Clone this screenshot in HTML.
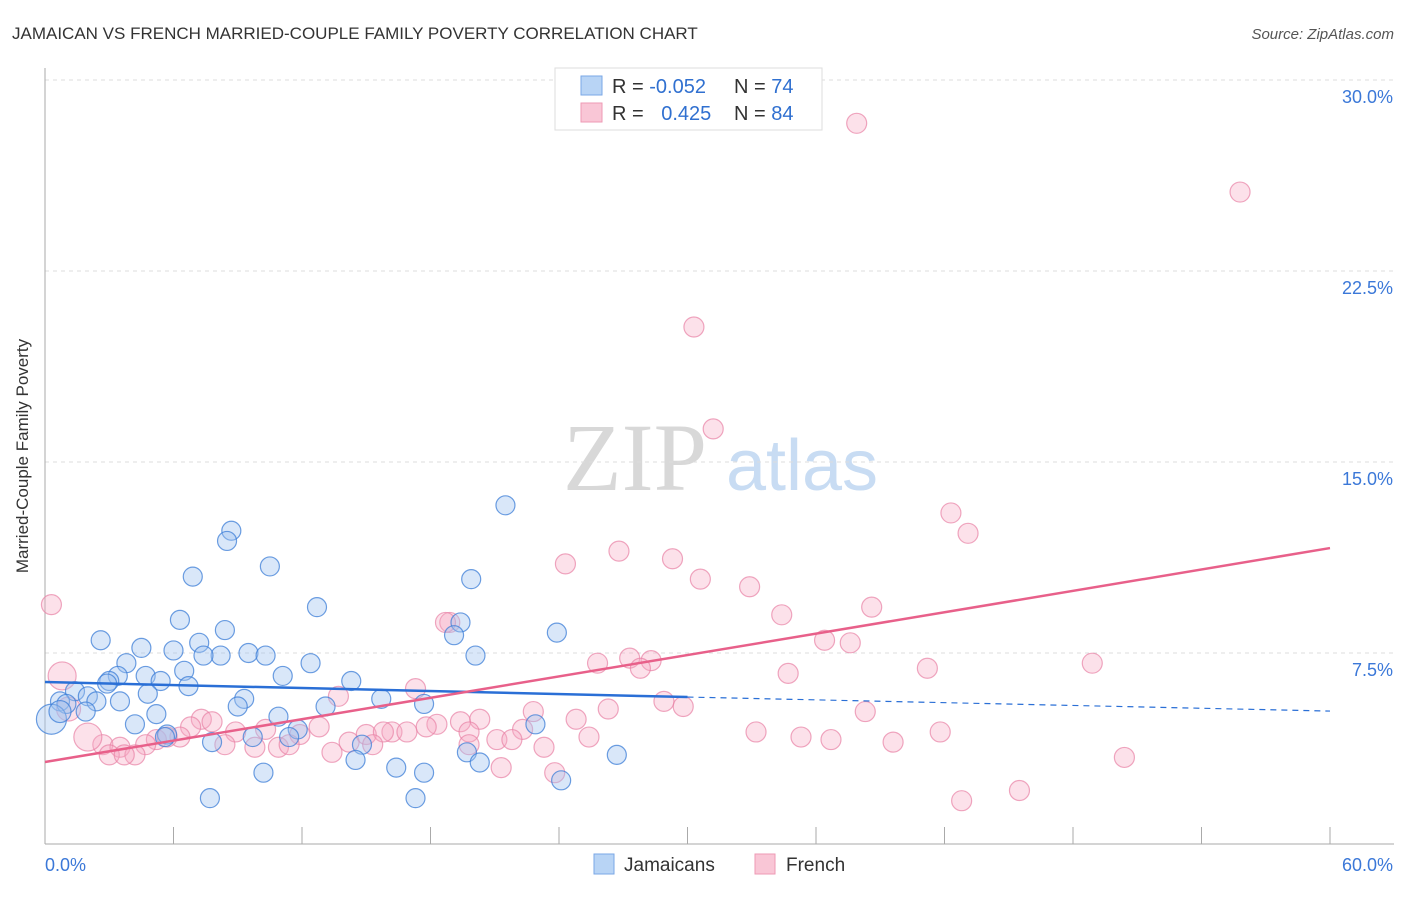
<!DOCTYPE html>
<html><head><meta charset="utf-8"><style>
body{margin:0;background:#fff;font-family:"Liberation Sans",sans-serif;}
</style></head><body>
<svg id="chart" width="1406" height="892" xmlns="http://www.w3.org/2000/svg" font-family="Liberation Sans, sans-serif">
<text x="12" y="39" font-size="17" fill="#333">JAMAICAN VS FRENCH MARRIED-COUPLE FAMILY POVERTY CORRELATION CHART</text>
<text x="1394" y="39" font-size="15" fill="#555" font-style="italic" text-anchor="end">Source: ZipAtlas.com</text>
<text x="28" y="456" font-size="17" fill="#333" text-anchor="middle" transform="rotate(-90 28 456)">Married-Couple Family Poverty</text>
<text x="635" y="490" font-size="96" fill="#d8d8d8" style="font-family:'Liberation Serif',serif" text-anchor="middle">ZIP</text>
<text x="802" y="490" font-size="72" fill="#c8dcf3" text-anchor="middle">atlas</text>
<g id="grid"></g><g id="axes"></g><g id="pts"></g><g id="lines"></g>
<g>
<rect x="555" y="68" width="267" height="62" fill="#fff" stroke="#ddd"/>
<rect x="581" y="76" width="21" height="19" fill="#b8d4f5" stroke="#7aa7e6"/>
<rect x="581" y="103" width="21" height="19" fill="#f9c6d6" stroke="#ee9ab4"/>
<text x="612" y="93" font-size="20" fill="#333">R = <tspan fill="#3070d0">-0.052</tspan></text>
<text x="734" y="93" font-size="20" fill="#333">N = <tspan fill="#3070d0">74</tspan></text>
<text x="612" y="120" font-size="20" fill="#333">R = <tspan fill="#3070d0" dx="12">0.425</tspan></text>
<text x="734" y="120" font-size="20" fill="#333">N = <tspan fill="#3070d0">84</tspan></text>
</g>
<g>
<rect x="594" y="854" width="20" height="20" fill="#b8d4f5" stroke="#7aa7e6"/>
<text x="624" y="871" font-size="19" fill="#333">Jamaicans</text>
<rect x="755" y="854" width="20" height="20" fill="#f9c6d6" stroke="#ee9ab4"/>
<text x="786" y="871" font-size="19" fill="#333">French</text>
</g>
</svg>
<script>
const yTicks=[7.5,15,22.5,30];
const yTickLabels=["7.5%","15.0%","22.5%","30.0%"];
const xTicks=[0,6,12,18,24,30,36,42,48,54,60];
const blueX=[21.5,8.7,8.5,10.5,6.9,19.9,12.7,6.3,19.4,23.9,2.6,19.1,8.4,4.5,6.0,7.2,8.2,9.5,10.3,20.1,7.4,3.8,12.4,6.5,3.4,4.7,3.0,5.4,11.1,14.3,6.7,2.9,1.4,2.0,4.8,2.4,3.5,0.7,1.0,9.3,15.7,17.7,13.1,9.0,1.9,5.2,10.9,4.2,22.9,11.8,5.7,11.4,5.6,9.7,7.8,14.8,19.7,14.5,26.7,20.3,16.4,17.7,10.2,24.1,7.7,17.3,0.3,0.7];
const blueY=[13.3,12.3,11.9,10.9,10.5,10.4,9.3,8.8,8.7,8.3,8.0,8.2,8.4,7.7,7.6,7.9,7.4,7.5,7.4,7.4,7.4,7.1,7.1,6.8,6.6,6.6,6.4,6.4,6.6,6.4,6.2,6.3,6.0,5.8,5.9,5.6,5.6,5.6,5.5,5.7,5.7,5.5,5.4,5.4,5.2,5.1,5.0,4.7,4.7,4.5,4.3,4.2,4.2,4.2,4.0,3.9,3.6,3.3,3.5,3.2,3.0,2.8,2.8,2.5,1.8,1.8,4.9,5.2];
const pinkX=[37.9,55.8,30.3,31.2,42.3,43.1,26.8,29.3,24.3,30.6,32.9,38.6,34.4,18.9,36.4,37.6,27.3,28.3,25.8,27.8,34.7,48.9,41.2,0.3,0.8,17.3,13.7,28.9,29.8,22.8,26.3,38.3,7.3,7.8,19.4,20.3,24.8,18.3,17.8,6.8,8.9,10.3,12.8,11.9,22.3,23.3,33.2,35.3,36.7,39.6,41.8,25.4,16.2,15.0,15.8,16.9,21.1,19.8,21.8,19.8,14.2,15.3,5.2,6.3,5.7,4.7,8.4,9.8,10.9,11.4,13.4,2.7,3.5,4.2,3.0,3.7,2.0,1.1,21.3,23.8,50.4,42.8,45.5,18.7];
const pinkY=[28.3,25.6,20.3,16.3,13.0,12.2,11.5,11.2,11.0,10.4,10.1,9.3,9.0,8.7,8.0,7.9,7.3,7.2,7.1,6.9,6.7,7.1,6.9,9.4,6.6,6.1,5.8,5.6,5.4,5.2,5.3,5.2,4.9,4.8,4.8,4.9,4.9,4.7,4.6,4.6,4.4,4.5,4.6,4.3,4.5,3.8,4.4,4.2,4.1,4.0,4.4,4.2,4.4,4.3,4.4,4.4,4.1,4.4,4.1,3.9,4.0,3.9,4.1,4.2,4.2,3.9,3.9,3.8,3.8,3.9,3.6,3.9,3.8,3.5,3.5,3.5,4.2,5.3,3.0,2.8,3.4,1.7,2.1,8.7];
const blueLine=[6.36,5.77,5.22];
const pinkLine=[3.22,11.62];
const blueBig=[66,67], pinkBig=[24,76,77];
const NS="http://www.w3.org/2000/svg";
const X0=45,X1=1330,Y0=844,Y30=80;
const sx=v=>X0+(X1-X0)*v/60;
const sy=v=>Y0-(Y0-Y30)*v/30;
function mk(tag,attrs,parent){const e=document.createElementNS(NS,tag);for(const k in attrs)e.setAttribute(k,attrs[k]);parent.appendChild(e);return e;}
const grid=document.getElementById('grid'),axes=document.getElementById('axes'),pts=document.getElementById('pts'),lines=document.getElementById('lines');
yTicks.forEach((t,i)=>{
 const l=mk('line',{x1:X0,x2:1394,y1:sy(t),y2:sy(t),stroke:'#ddd','stroke-dasharray':'4,4'},grid);
 
 
 const tx=mk('text',{x:1393,y:sy(t)+23,'font-size':18,fill:'#3b78d8','text-anchor':'end'},grid);
 tx.textContent=yTickLabels[i];
 
 
});
const ya=mk('line',{x1:X0,x2:X0,y1:68,y2:Y0,stroke:'#aaa'},axes);


const xa=mk('line',{x1:X0,x2:1394,y1:Y0,y2:Y0,stroke:'#aaa'},axes);


xTicks.forEach(t=>{const l=mk('line',{x1:sx(t),x2:sx(t),y1:827,y2:Y0,stroke:'#aaa'},axes);
 
 });
const xl0=mk('text',{x:45,y:871,'font-size':18,fill:'#3b78d8'},axes);xl0.textContent='0.0%';


const xl1=mk('text',{x:1393,y:871,'font-size':18,fill:'#3b78d8','text-anchor':'end'},axes);xl1.textContent='60.0%';


pinkX.forEach((x,i)=>{const c=mk('circle',{cx:sx(x),cy:sy(pinkY[i]),r:pinkBig.includes(i)?(i===77?12:14):10,fill:'rgba(246,170,195,0.35)',stroke:'rgba(232,130,165,0.7)','stroke-width':1.2},pts);
 
 });
blueX.forEach((x,i)=>{const c=mk('circle',{cx:sx(x),cy:sy(blueY[i]),r:blueBig.includes(i)?(i===66?15:11):9.5,fill:'rgba(160,195,240,0.4)',stroke:'rgba(60,125,215,0.75)','stroke-width':1.2},pts);
 
 });
const bl=mk('line',{x1:sx(0),y1:sy(blueLine[0]),x2:sx(30),y2:sy(blueLine[1]),stroke:'#2a6fd6','stroke-width':2.5},lines);


const bd=mk('line',{x1:sx(30),y1:sy(blueLine[1]),x2:sx(60),y2:sy(blueLine[2]),stroke:'#2a6fd6','stroke-width':1.2,'stroke-dasharray':'6,5'},lines);


const pl=mk('line',{x1:sx(0),y1:sy(pinkLine[0]),x2:sx(60),y2:sy(pinkLine[1]),stroke:'#e8608a','stroke-width':2.5},lines);


</script>
</body></html>
